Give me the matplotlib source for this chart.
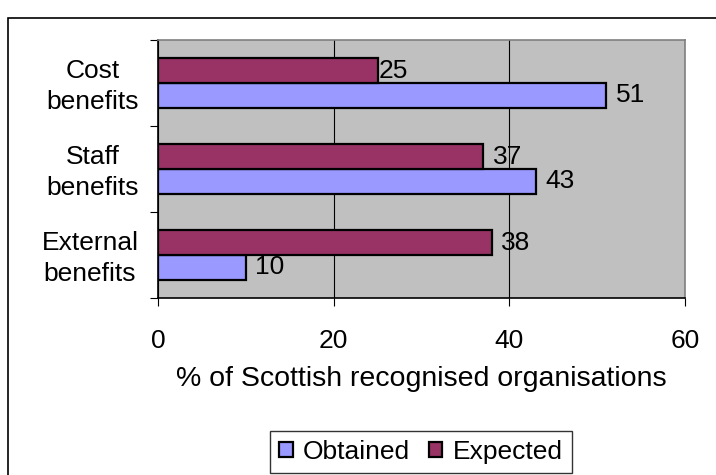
import matplotlib
matplotlib.use("Agg")
import matplotlib.pyplot as plt
import matplotlib.transforms as mtransforms
import numpy as np
from matplotlib.patches import Rectangle

categories = ["External\nbenefits", "Staff\nbenefits", "Cost\nbenefits"]
obtained = [10, 43, 51]
expected = [38, 37, 25]
series_names = ["Obtained", "Expected"]
xticks = [0, 20, 40, 60]

plt.rcParams['font.family'] = ['Liberation Sans', 'DejaVu Sans']

fig = plt.figure(figsize=(7.16, 4.75), dpi=100)
W, H = 716, 475
ax = fig.add_axes([158 / W, 1 - 298 / H, (685 - 158) / W, (298 - 40) / H])
ax.set_facecolor('#C0C0C0')

# outer border (extends beyond the image on right and bottom)
fig.patches.append(Rectangle((8 / W, -0.1), 1.2, 1 - 18 / H + 0.1, transform=fig.transFigure,
                             fill=False, edgecolor='black', linewidth=1.2, zorder=0))

y = np.arange(len(categories))
h = 0.29
c_obt = '#9999FF'
c_exp = '#993366'
b1 = ax.barh(y - h / 2, obtained, height=h, color=c_obt, edgecolor='black', linewidth=1.6, zorder=3, label=series_names[0])
b2 = ax.barh(y + h / 2, expected, height=h, color=c_exp, edgecolor='black', linewidth=1.6, zorder=3, label=series_names[1])

FS = 19
obt_pad = [1.1, 1.1, 1.1]
exp_pad = [1.1, 1.1, 0.1]
for rect, v, p in zip(b1, obtained, obt_pad):
    ax.text(v + p, rect.get_y() + rect.get_height() / 2, str(v), va='center', ha='left', fontsize=FS, zorder=4)
for rect, v, p in zip(b2, expected, exp_pad):
    ax.text(v + p, rect.get_y() + rect.get_height() / 2, str(v), va='center', ha='left', fontsize=FS, zorder=4)

ax.set_xlim(0, 60)
ax.set_ylim(-0.5, len(categories) - 0.5)
ax.set_xticks(xticks)
ax.set_xticklabels([str(t) for t in xticks], fontsize=FS)
ax.xaxis.grid(True, color='black', linewidth=0.8, zorder=1)
ax.set_axisbelow(True)

ax.set_yticks(np.arange(-0.5, len(categories), 1.0))
ax.set_yticklabels([])
ax.set_yticks(y, minor=True)
ax.set_yticklabels(categories, minor=True, fontsize=FS, ha='right', multialignment='center', linespacing=1.42)
ax.tick_params(axis='y', which='minor', length=0, pad=14)
ax.tick_params(axis='y', which='major', length=6, direction='out', color='black')
ax.tick_params(axis='x', length=6, direction='out', pad=16, color='black')
shift = mtransforms.ScaledTranslation(0, 3 / 100, fig.dpi_scale_trans)
for lbl in ax.get_yticklabels(minor=True):
    lbl.set_transform(lbl.get_transform() + shift)

ax.spines['top'].set_color('#808080')
ax.spines['right'].set_color('#808080')
ax.spines['bottom'].set_color('black')
ax.spines['left'].set_color('black')
for s in ax.spines.values():
    s.set_linewidth(1.2)

ax.set_xlabel("% of Scottish recognised organisations", fontsize=20.5, labelpad=10)

handles, labels = ax.get_legend_handles_labels()
leg = fig.legend(handles, labels, loc='upper center', bbox_to_anchor=(421 / W, 1 - 431 / H),
                 ncol=2, fontsize=FS, frameon=True, fancybox=False, edgecolor='black',
                 handlelength=0.5, handleheight=0.5, handletextpad=0.4, columnspacing=0.7,
                 borderpad=0.35, borderaxespad=0)
leg.get_frame().set_linewidth(1.0)

fig.savefig("out.png", dpi=100)
